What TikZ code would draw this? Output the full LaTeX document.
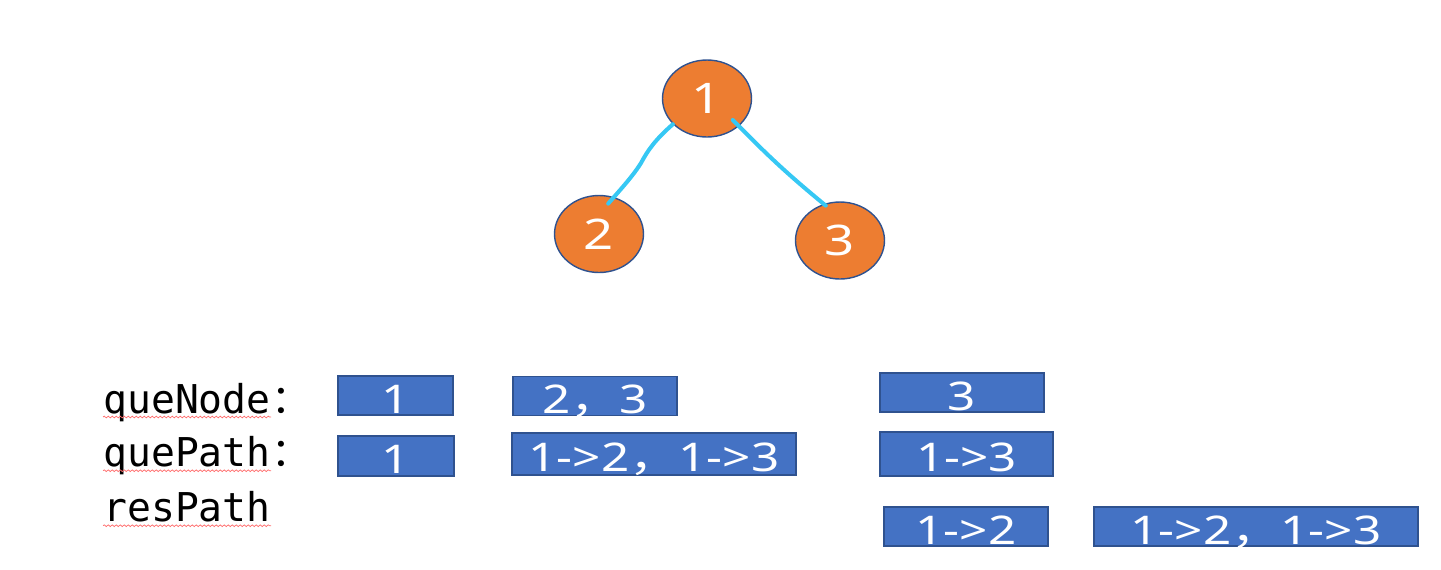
\documentclass[tikz,border=0pt]{standalone}
\usepackage{fontspec}
\usepackage{graphicx}
\usetikzlibrary{calc,shapes.geometric,decorations.pathmorphing}
\newfontfamily\cjk{Noto Sans CJK SC}
\newfontfamily\boxfont{Noto Sans}
\newfontfamily\codefont{DejaVu Sans Mono}
\newcommand\widetxt[1]{\scalebox{1.25}[1]{#1}}
\definecolor{treeorange}{HTML}{ED7D31}
\definecolor{boxblue}{HTML}{4472C4}
\definecolor{rimblue}{HTML}{2F528F}
\definecolor{linkcyan}{HTML}{36C8F4}
\definecolor{spellred}{HTML}{FF6A6A}
\tikzset{
  tnode/.style={ellipse, fill=treeorange, draw=rimblue, line width=0.8pt,
    minimum width=1.78cm, minimum height=1.54cm, inner sep=0pt, text=white,
    font=\boxfont\fontsize{24}{24}\selectfont},
  qbox/.style={rectangle, fill=boxblue, draw=rimblue, line width=1pt,
    inner sep=0pt, text=white, text height=0.7cm, text depth=0pt,
    font=\boxfont\fontsize{22.5}{22.5}\selectfont},
  link/.style={linkcyan, line width=2.3pt, line cap=round},
  code/.style={anchor=base west, inner sep=0pt,
    font=\codefont\fontsize{22.6}{22.6}\selectfont},
  spell/.style={spellred, line width=0.4pt, decorate,
    decoration={snake, amplitude=0.5pt, segment length=0.08cm}}
}
\begin{document}
\begin{tikzpicture}[x=0.02cm,y=-0.02cm]
\useasboundingbox (0,0) rectangle (1441,569);
% tree
\path
(707,98.5) node[tnode] (n1) {\widetxt{1}}
(599,234) node[tnode] (n2) {\widetxt{2}}
(840,240.5) node[tnode] (n3) {\widetxt{3}};
\draw[link, shorten >=-5pt] (n1.217) .. controls (655,140) and (648,150) .. (641,163)
                .. controls (633,176) and (620,190) .. (n2.68);
\draw[link, shorten <=-5pt, shorten >=-1.5pt] (n1.319) to[bend right=3] (n3.114);
% row labels
\path
(103,413) node[code] (qnode) {queNode}
(103,466.7) node[code] (qpath) {quePath}
(103,521.7) node[code] (rpath) {resPath};
\node[code] (qncolon) at (qnode.base east) {\cjk ：};
\node[code] (qpcolon) at (qpath.base east) {\cjk ：};
\draw[spell] ($(qnode.base west)+(0,4)$) -- ($(qnode.base east)+(0,4)$);
\draw[spell] ($(qpath.base west)+(0,4)$) -- ($(qpath.base east)+(0,4)$);
\draw[spell] ($(rpath.base west)+(0,4)$) -- ($(rpath.base east)+(0,4)$);
% queue states
\path
(395.5,395.5) node[qbox, minimum width=2.30cm, minimum height=0.78cm] (qn1) {\widetxt{1}}
(595,396) node[qbox, minimum width=3.28cm, minimum height=0.78cm] (qn2) {\widetxt{2{\cjk ，}3}}
(962,392.5) node[qbox, minimum width=3.28cm, minimum height=0.78cm] (qn3) {\widetxt{3}}
(396,456) node[qbox, minimum width=2.32cm, minimum height=0.80cm] (qp1) {\widetxt{1}}
(654,454) node[qbox, minimum width=5.68cm, minimum height=0.84cm] (qp2) {\widetxt{1->2{\cjk ，}1->3}}
(966.5,454) node[qbox, minimum width=3.46cm, minimum height=0.88cm] (qp3) {\widetxt{1->3}}
(966,526.5) node[qbox, minimum width=3.28cm, minimum height=0.78cm] (rp1) {\widetxt{1->2}}
(1256,526.5) node[qbox, minimum width=6.48cm, minimum height=0.78cm] (rp2) {\widetxt{1->2{\cjk ，}1->3}};
\end{tikzpicture}
\end{document}
